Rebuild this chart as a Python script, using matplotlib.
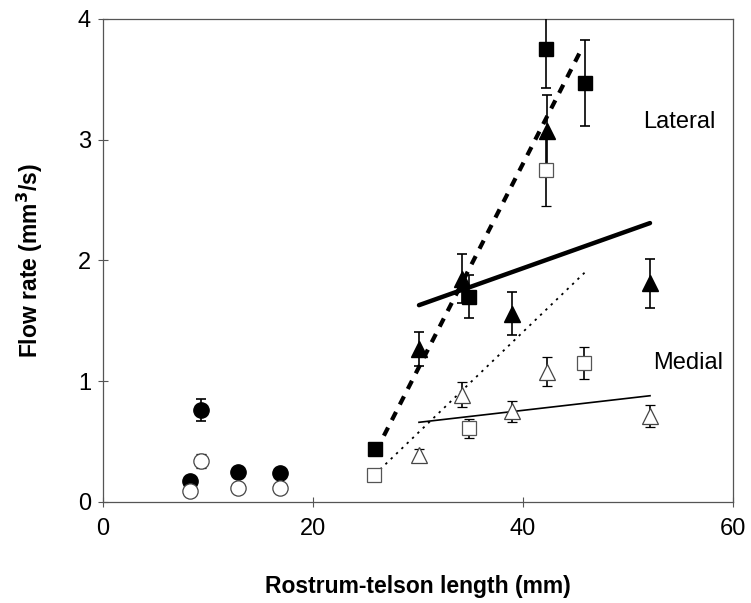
import matplotlib
matplotlib.use('Agg')
import matplotlib.pyplot as plt

plt.rcParams['font.family'] = ['Liberation Sans', 'DejaVu Sans']

# small animals (circles)
circ_x = [8.3, 9.3, 12.9, 16.9]
lat_circ_y = [0.17, 0.76, 0.25, 0.24]
lat_circ_err = [0, 0.09, 0, 0]
med_circ_y = [0.09, 0.34, 0.12, 0.12]
med_circ_err = [0, 0.06, 0, 0]

# squares
lat_sq_x = [25.9, 34.9, 42.2, 45.9]
lat_sq_y = [0.44, 1.70, 3.75, 3.47]
lat_sq_err = [0.04, 0.18, 0.32, 0.36]
med_sq_x = [25.8, 34.9, 42.2, 45.8]
med_sq_y = [0.22, 0.61, 2.75, 1.15]
med_sq_err = [0, 0.08, 0.30, 0.13]

# triangles
tri_x = [30.1, 34.2, 39.0, 42.3, 52.1]
lat_tri_y = [1.27, 1.85, 1.56, 3.07, 1.81]
lat_tri_err = [0.14, 0.20, 0.18, 0.30, 0.20]
med_tri_y = [0.39, 0.89, 0.75, 1.08, 0.71]
med_tri_err = [0.05, 0.10, 0.09, 0.12, 0.09]

# regression lines (end points)
fit_lat_sq_x, fit_lat_sq_y = [26.0, 45.4], [0.42, 3.72]
fit_med_sq_x, fit_med_sq_y = [26.4, 46.0], [0.27, 1.91]
fit_lat_tri_x, fit_lat_tri_y = [30.1, 52.1], [1.63, 2.31]
fit_med_tri_x, fit_med_tri_y = [30.1, 52.1], [0.66, 0.88]

fig = plt.figure(figsize=(7.51, 6.03), dpi=100)
ax = fig.add_axes([0.137, 0.1675, 0.839, 0.801])

# fit lines
ax.plot(fit_lat_sq_x, fit_lat_sq_y, color='black', lw=3, linestyle=(0, (2.2, 2.0)), zorder=2)
ax.plot(fit_med_sq_x, fit_med_sq_y, color='black', lw=1.3, linestyle=(0, (1.3, 2.8)), zorder=2)
ax.plot(fit_lat_tri_x, fit_lat_tri_y, color='black', lw=3.2, solid_capstyle='round', zorder=2)
ax.plot(fit_med_tri_x, fit_med_tri_y, color='black', lw=1.2, zorder=2)

eb = dict(ecolor='black', elinewidth=1.2, capsize=3.5, capthick=1.2, linestyle='none', zorder=3)

ax.errorbar(circ_x, lat_circ_y, yerr=lat_circ_err, fmt='o', ms=11,
            mfc='black', mec='black', **eb)
ax.errorbar(circ_x, med_circ_y, yerr=med_circ_err, fmt='o', ms=11,
            mfc='white', mec='#444444', mew=0.9, **eb)
ax.errorbar(lat_sq_x, lat_sq_y, yerr=lat_sq_err, fmt='s', ms=9.5,
            mfc='black', mec='black', **eb)
ax.errorbar(med_sq_x, med_sq_y, yerr=med_sq_err, fmt='s', ms=9.5,
            mfc='white', mec='#555555', mew=0.9, **eb)
ax.errorbar(tri_x, lat_tri_y, yerr=lat_tri_err, fmt='^', ms=11,
            mfc='black', mec='black', **eb)
ax.errorbar(tri_x, med_tri_y, yerr=med_tri_err, fmt='^', ms=11,
            mfc='white', mec='#444444', mew=0.9, **eb)

ax.text(54.9, 3.15, 'Lateral', fontsize=17, ha='center', va='center')
ax.text(55.7, 1.15, 'Medial', fontsize=17, ha='center', va='center')

ax.set_xlim(0, 60)
ax.set_ylim(0, 4)
ax.set_xticks([0, 20, 40, 60])
ax.set_yticks([0, 1, 2, 3, 4])
ax.tick_params(direction='inout', length=7, width=0.8, labelsize=17, color='#555555')
ax.tick_params(axis='x', pad=8)
ax.tick_params(axis='y', pad=5)
for s in ax.spines.values():
    s.set_color('#555555')
    s.set_linewidth(0.9)

ax.set_xlabel('Rostrum-telson length (mm)', fontsize=16.5, fontweight='bold', labelpad=25)
ax.set_ylabel('Flow rate (mm$^{\\mathbf{3}}$/s)', fontsize=16.5, fontweight='bold', labelpad=24)

plt.savefig('out.png', dpi=100)
